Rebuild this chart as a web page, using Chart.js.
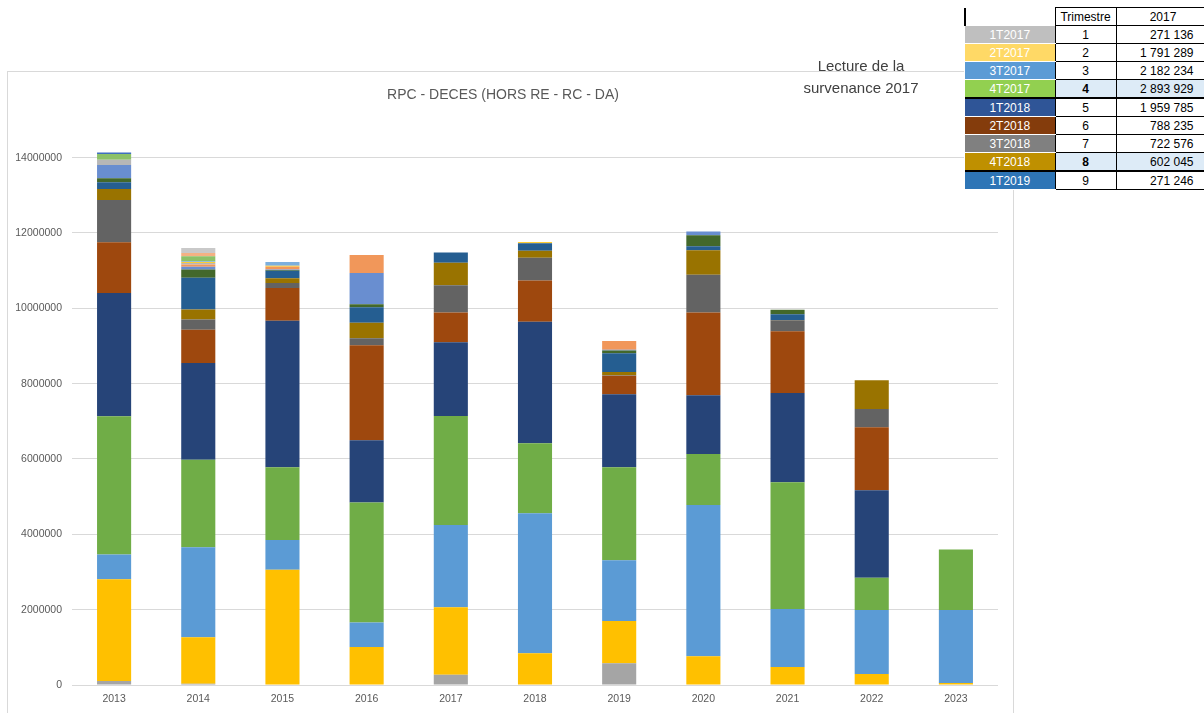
<!DOCTYPE html>
<html>
<head>
<meta charset="utf-8">
<script src="https://cdn.jsdelivr.net/npm/chart.js@4.4.1/dist/chart.umd.min.js"></script>
<style>
  body { margin: 0; width: 1204px; height: 713px; overflow: hidden; background: #fff; position: relative; font-family: "Liberation Sans", Arial, sans-serif; }
  #chart-box { position: absolute; left: 7px; top: 71px; width: 1005px; height: 645px; border: 1px solid #d9d9d9; }
  #note { position: absolute; left: 792px; top: 55px; width: 138px; text-align: center; font-size: 15px; line-height: 22px; color: #404040; }
  #tbl { position: absolute; left: 964px; top: 7px; border-collapse: collapse; table-layout: fixed; width: 245px; font-size: 12px; background: #fff; color: #000; }
  #tbl td { height: 17px; padding: 0; border: 1px solid #000; white-space: nowrap; overflow: hidden; }
  #tbl td.lab { color: #fff; text-align: center; border-top: 1px solid #fff; border-bottom: 1px solid #fff; border-left: 0; }
  #tbl td.idx { text-align: center; }
  #tbl td.val { text-align: right; padding-right: 16px; }
  #tbl tr.hl td.idx, #tbl tr.hl td.val { background: #ddebf7; }
  #tbl tr.hl td.idx { font-weight: bold; }
  #tbl tr.hl td { border-bottom: 2px solid #000; }
  #tbl td.corner { border: 0; border-left: 2px solid #000; }
</style>
</head>
<body>

<div id="chart-box"><canvas id="rpcChart"></canvas></div>

<div id="note">Lecture de la<br>survenance 2017</div>

<table id="tbl">
  <colgroup><col style="width:90px"><col style="width:61px"><col style="width:94px"></colgroup>
  <tr><td class="corner"></td><td class="idx">Trimestre</td><td class="val" style="text-align:center;padding-right:0">2017</td></tr>
  <tr><td class="lab" style="background:#bfbfbf">1T2017</td><td class="idx">1</td><td class="val">271 136</td></tr>
  <tr><td class="lab" style="background:#ffd966">2T2017</td><td class="idx">2</td><td class="val">1 791 289</td></tr>
  <tr><td class="lab" style="background:#5b9bd5">3T2017</td><td class="idx">3</td><td class="val">2 182 234</td></tr>
  <tr class="hl"><td class="lab" style="background:#92d050">4T2017</td><td class="idx">4</td><td class="val">2 893 929</td></tr>
  <tr><td class="lab" style="background:#2f5597">1T2018</td><td class="idx">5</td><td class="val">1 959 785</td></tr>
  <tr><td class="lab" style="background:#843c0c">2T2018</td><td class="idx">6</td><td class="val">788 235</td></tr>
  <tr><td class="lab" style="background:#808080">3T2018</td><td class="idx">7</td><td class="val">722 576</td></tr>
  <tr class="hl"><td class="lab" style="background:#bf9000">4T2018</td><td class="idx">8</td><td class="val">602 045</td></tr>
  <tr><td class="lab" style="background:#2e75b6">1T2019</td><td class="idx">9</td><td class="val">271 246</td></tr>
</table>

<script>
// DATA - one array per development quarter, one value per year

const years = ["2013", "2014", "2015", "2016", "2017", "2018", "2019", "2020", "2021", "2022", "2023"];
const yTicks = [0, 2000000, 4000000, 6000000, 8000000, 10000000, 12000000, 14000000];

const q01 = [106000, 30000, 0, 0, 271136, 0, 575000, 0, 0, 0, 0];
const q02 = [2700000, 1240000, 3060000, 1008000, 1791289, 840000, 1125000, 760000, 480000, 290000, 50000];
const q03 = [660000, 2390000, 790000, 650000, 2182234, 3720000, 1610000, 4020000, 1540000, 1700000, 1940000];
const q04 = [3670000, 2320000, 1930000, 3190000, 2893929, 1860000, 2470000, 1350000, 3360000, 860000, 1610000];
const q05 = [3270000, 2570000, 3890000, 1650000, 1959785, 3220000, 1940000, 1560000, 2370000, 2320000, 0];
const q06 = [1350000, 880000, 870000, 2520000, 788235, 1100000, 490000, 2200000, 1640000, 1670000, 0];
const q07 = [1120000, 270000, 130000, 190000, 722576, 600000, 10000, 1000000, 290000, 490000, 0];
const q08 = [290000, 270000, 130000, 410000, 602045, 190000, 90000, 650000, 10000, 760000, 0];
const q09 = [180000, 840000, 200000, 410000, 271246, 200000, 500000, 110000, 150000, 0, 0];
const q10 = [110000, 220000, 20000, 80000, 0, 0, 70000, 290000, 120000, 0, 0];
const q11 = [350000, 70000, 10000, 830000, 0, 0, 20000, 100000, 0, 0, 0];
const q12 = [0, 60000, 70000, 480000, 0, 0, 230000, 0, 0, 0, 0];
const q13 = [140000, 40000, 0, 0, 0, 0, 0, 0, 0, 0, 0];
const q14 = [0, 30000, 30000, 0, 0, 30000, 0, 0, 0, 0, 0];
const q15 = [0, 20000, 100000, 0, 0, 0, 0, 0, 0, 0, 0];
const q16 = [150000, 130000, 0, 0, 0, 0, 0, 0, 0, 0, 0];
const q17 = [40000, 0, 0, 0, 0, 0, 0, 0, 0, 0, 0];
const q18 = [0, 90000, 0, 0, 0, 0, 0, 0, 0, 0, 0];
const q19 = [0, 130000, 0, 0, 0, 0, 0, 0, 0, 0, 0];

const series = [q01, q02, q03, q04, q05, q06, q07, q08, q09, q10, q11, q12, q13, q14, q15, q16, q17, q18, q19];
const colors = [
  "#a5a5a5", "#ffc000", "#5b9bd5", "#70ad47", "#264478", "#9e480e",
  "#636363", "#997300", "#255e91", "#43682b", "#698ed0", "#f1975a",
  "#b7b7b7", "#ffcd33", "#7cafdd", "#8cc168", "#3f6fbf", "#f4b183", "#c9c9c9"
];

// CHART

Chart.defaults.font.family = "'Liberation Sans', Arial, sans-serif";
Chart.defaults.color = "#595959";

const ctx = document.getElementById("rpcChart").getContext("2d");

const rpcChart = new Chart(ctx, {
  type: "bar",
  data: {
    labels: years,
    datasets: series.map((vals, i) => ({
      label: "Trimestre " + (i + 1),
      data: vals,
      backgroundColor: colors[i],
      borderWidth: 0,
      categoryPercentage: 1,
      barPercentage: 0.405,
    })),
  },
  options: {
    responsive: true,
    maintainAspectRatio: false,
    animation: false,
    layout: { padding: { left: 0, right: 15, top: 0, bottom: 0 } },
    plugins: {
      legend: { display: false },
      tooltip: { enabled: false },
      title: {
        display: true,
        text: "RPC - DECES (HORS RE - RC - DA)",
        color: "#595959",
        font: { size: 14, weight: "normal" },
        padding: { top: 15, bottom: 35 },
      },
    },
    scales: {
      x: {
        stacked: true,
        grid: { display: false, drawTicks: false },
        border: { display: false },
        ticks: { padding: 8, font: { size: 10.5 }, color: "#595959" },
        afterFit: function (scale) {
          scale.height = 32;
        },
      },
      y: {
        stacked: true,
        min: 0,
        max: 14500000,
        grid: { color: "#d9d9d9", drawTicks: false },
        border: { display: false },
        afterBuildTicks: function (scale) {
          scale.ticks = yTicks.map((v) => ({ value: v }));
        },
        ticks: {
          padding: 10,
          font: { size: 10.5 },
          color: "#595959",
          callback: function (value) {
            return String(value);
          },
        },
        afterFit: function (scale) {
          scale.width = 64;
        },
      },
    },
  },
});
</script>
</body>
</html>
